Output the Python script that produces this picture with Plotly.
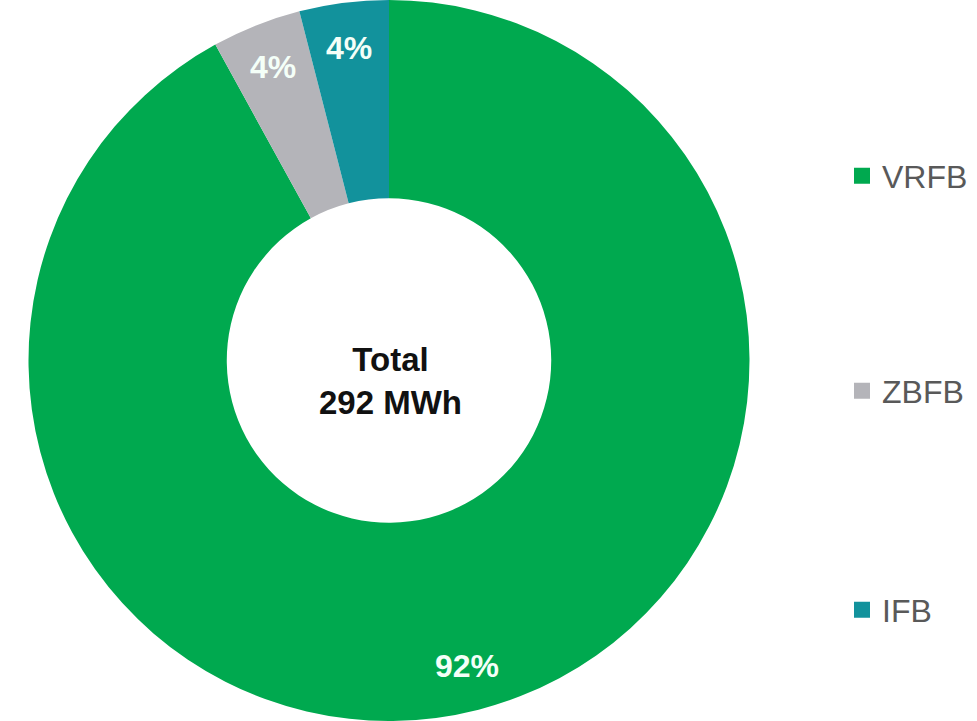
import math
import plotly.graph_objects as go

# Flow battery technologies by share of installed energy (total 292 MWh)
technologies = ["VRFB", "ZBFB", "IFB"]
shares_pct = [92, 4, 4]
slice_colors = ["#00A94F", "#B4B4B9", "#12929C"]
total_label = "Total<br>292 MWh"

W, H = 977, 721
# donut placement (pixels)
cx, cy, R = 389.0, 360.5, 360.5
label_r = 0.875 * R

fig = go.Figure()

fig.add_trace(go.Pie(
    labels=technologies,
    values=shares_pct,
    marker=dict(colors=slice_colors, line=dict(width=0)),
    hole=0.45,
    sort=False,
    direction="clockwise",
    rotation=0,
    textinfo="none",
    hoverinfo="label+percent",
    showlegend=False,
    domain=dict(x=[(cx - R) / W, (cx + R) / W], y=[0, 1]),
))

# percentage labels placed near the outer rim of each slice
annotations = []
total = sum(shares_pct)
cum = 0.0
for name, v in zip(technologies, shares_pct):
    mid = (cum + v / 2) / total * 2 * math.pi
    cum += v
    px = cx + label_r * math.sin(mid)
    py = cy - label_r * math.cos(mid)
    annotations.append(dict(
        x=px / W, y=1 - py / H, xref="paper", yref="paper",
        text=f"<b>{v}%</b>", showarrow=False,
        font=dict(family="Liberation Sans, Arial, sans-serif", size=32, color="#F4FFF8"),
        xanchor="center", yanchor="middle",
    ))

annotations.append(dict(
    x=390 / W, y=1 - 381 / H, xref="paper", yref="paper",
    text=f"<b>{total_label}</b>", showarrow=False,
    font=dict(family="Liberation Sans, Arial, sans-serif", size=33, color="#111111"),
    xanchor="center", yanchor="middle",
))

# legend keys, one legend box per technology
legend_y_px = [176, 391, 610]
legend_names = ["legend", "legend2", "legend3"]
for name, color, lg in zip(technologies, slice_colors, legend_names):
    fig.add_trace(go.Scatter(
        x=[None], y=[None], mode="markers", name=name,
        marker=dict(symbol="square", size=22, color=color),
        legend=lg, showlegend=True, hoverinfo="skip",
    ))

legend_common = dict(
    x=842 / W, xanchor="left", yanchor="middle",
    bgcolor="rgba(0,0,0,0)", borderwidth=0,
    font=dict(family="Liberation Sans, Arial, sans-serif", size=32, color="#595959"),
    itemclick=False, itemdoubleclick=False,
)

fig.update_layout(
    width=W, height=H,
    margin=dict(l=0, r=0, t=0, b=0),
    paper_bgcolor="white", plot_bgcolor="white",
    xaxis=dict(visible=False, domain=[0.99, 1.0]),
    yaxis=dict(visible=False, domain=[0.99, 1.0]),
    annotations=annotations,
    legend=dict(y=1 - legend_y_px[0] / H, **legend_common),
    legend2=dict(y=1 - legend_y_px[1] / H, **legend_common),
    legend3=dict(y=1 - legend_y_px[2] / H, **legend_common),
)

fig.write_html("out.html")
